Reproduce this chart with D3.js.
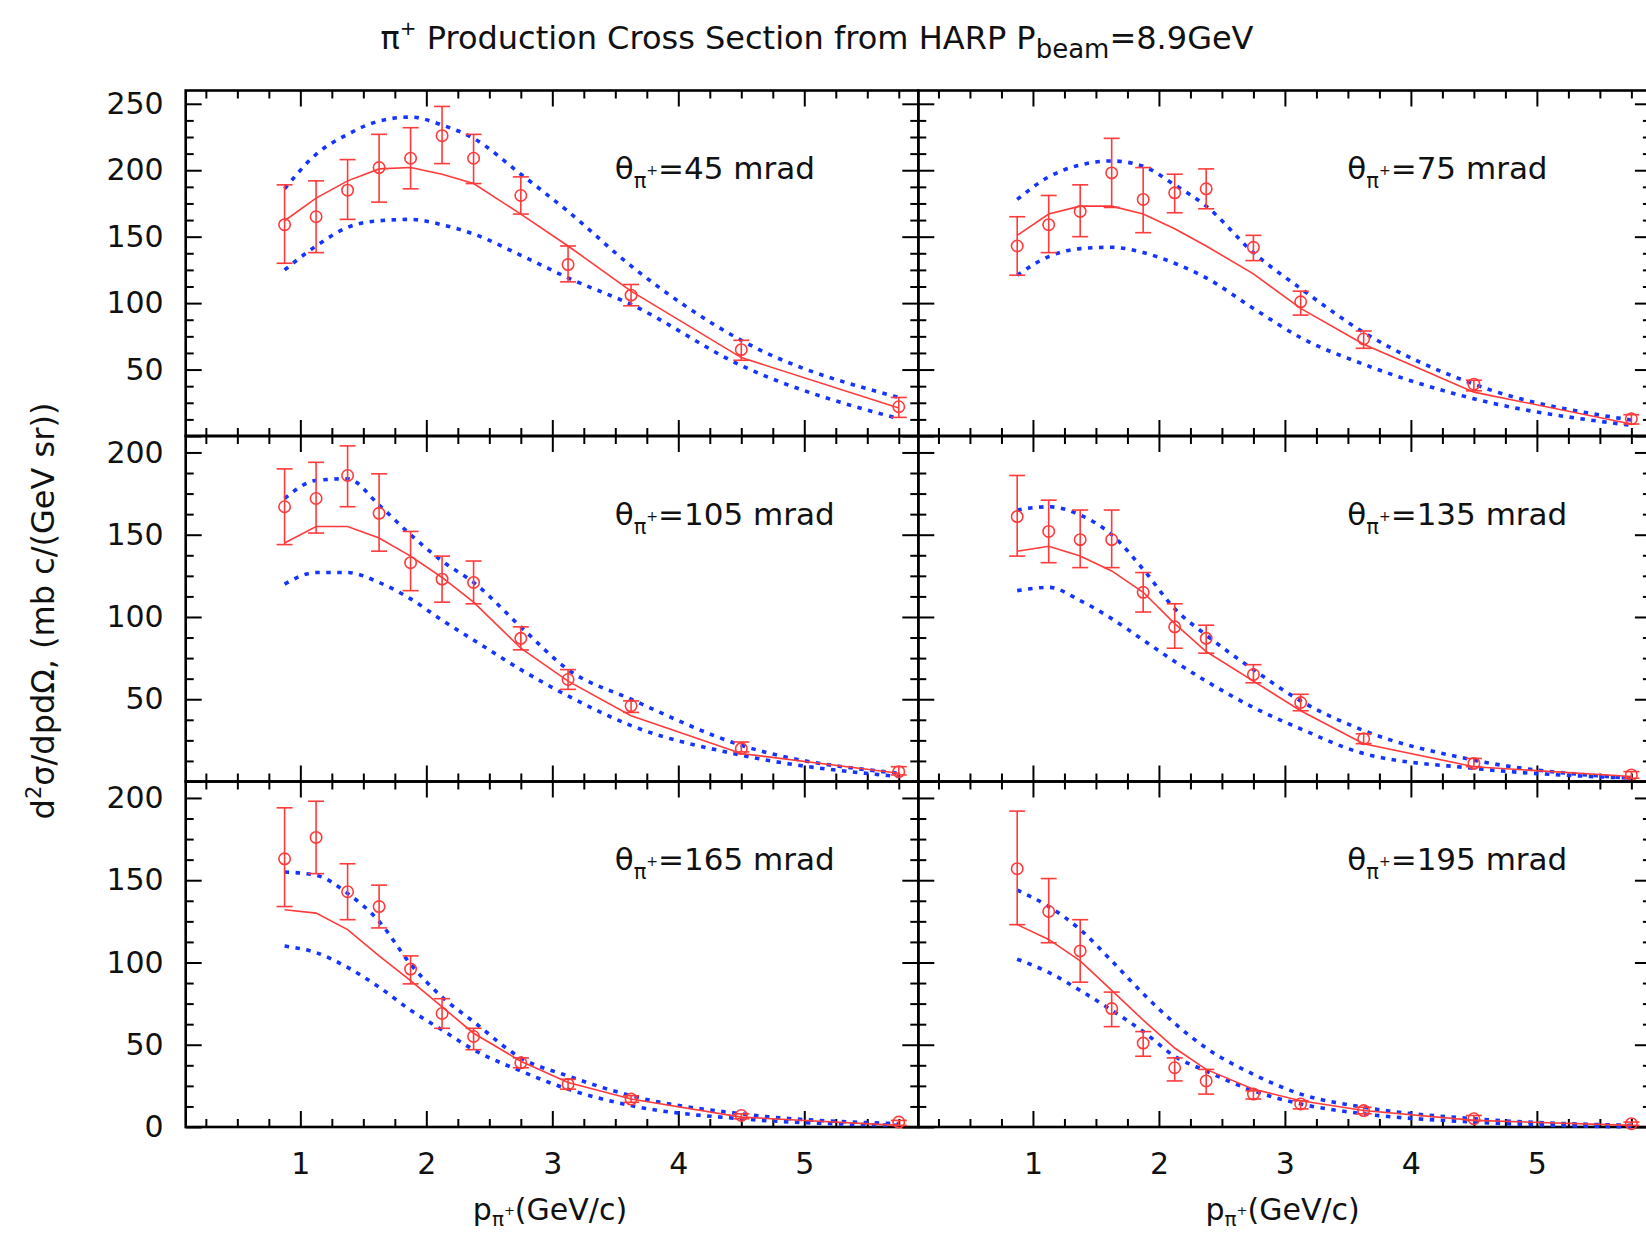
<!DOCTYPE html>
<html>
<head>
<meta charset="utf-8">
<script src="https://cdn.jsdelivr.net/npm/d3@7"></script>
<style>
  html, body { margin: 0; padding: 0; background: #fff; }
  svg { display: block; }
  text { font-family: "DejaVu Sans", "Liberation Sans", sans-serif; fill: #111; }
</style>
</head>
<body>
<svg id="chart" width="1646" height="1235"></svg>
<script>
// ---------------- data ----------------
const momentum = [0.875, 1.125, 1.375, 1.625, 1.875, 2.125, 2.375, 2.75, 3.125, 3.625, 4.5, 5.75];
const angles = [45, 75, 105, 135, 165, 195];
const xTickValues = [1, 2, 3, 4, 5];
const yTicksTop = [50, 100, 150, 200, 250];
const yTicksMid = [50, 100, 150, 200];
const yTicksBottom = [0, 50, 100, 150, 200];

const data45  = [159, 165, 185, 202, 209, 226, 209, 181, 129, 106, 65, 22];
const hi45    = [189, 192, 208, 227, 232, 248, 227, 195, 143, 114, 72, 29];
const lo45    = [130, 138, 163, 176, 186, 205, 190, 167, 116, 98, 57, 14];
const model45 = [162, 179, 192, 201, 202, 197, 190, 167, 143, 109, 59, 21];
const up45    = [186, 212, 227, 237, 240, 234, 224, 197, 169, 128, 72, 29];
const low45   = [125, 143, 157, 162, 163, 159, 152, 136, 119, 99, 53, 13];

const data75  = [143, 159, 169, 198, 178, 183, 186, 142, 101, 73, 39, 13];
const hi75    = [165, 181, 189, 224, 202, 197, 201, 151, 109, 79, 42, 16];
const lo75    = [121, 138, 150, 172, 153, 168, 171, 132, 91, 66, 34, 9];
const model75 = [151, 167, 173, 173, 167, 156, 143, 122, 96, 69, 33, 9];
const up75    = [178, 195, 204, 207, 203, 189, 173, 138, 111, 78, 39, 12];
const low75   = [121, 135, 141, 142, 138, 130, 119, 96, 74, 54, 28, 8];

const data105  = [167, 172, 186, 163, 133, 123, 121, 87, 62, 46, 20, 6];
const hi105    = [190, 194, 204, 187, 152, 137, 134, 94, 68, 49, 24, 9];
const lo105    = [144, 151, 167, 140, 116, 109, 108, 80, 56, 42, 18, 4];
const model105 = [145, 155, 155, 148, 137, 124, 109, 81, 61, 40, 17, 5];
const up105    = [172, 183, 184, 168, 150, 134, 121, 94, 68, 50, 22, 5];
const low105   = [120, 127, 127, 121, 111, 98, 86, 68, 52, 34, 16, 3];

const data135  = [161, 152, 147, 147, 115, 94, 87, 65, 48, 26, 11, 4];
const hi135    = [186, 171, 165, 165, 127, 108, 95, 71, 53, 29, 14, 6];
const lo135    = [137, 133, 130, 130, 103, 81, 78, 60, 43, 23, 9, 2];
const model135 = [140, 143, 137, 128, 115, 96, 79, 61, 43, 23, 9, 3];
const up135    = [165, 167, 162, 150, 129, 105, 89, 68, 49, 31, 13, 2];
const low135   = [116, 118, 110, 99, 86, 73, 61, 45, 32, 17, 8, 2];

const data165  = [163, 176, 143, 134, 96, 69, 55, 39, 26, 17, 7, 3];
const hi165    = [194, 198, 160, 147, 104, 78, 60, 42, 29, 19, 8, 4];
const lo165    = [134, 154, 126, 121, 87, 60, 47, 36, 23, 15, 5, 1];
const model165 = [132, 130, 120, 104, 89, 73, 57, 40, 27, 17, 6, 1];
const up165    = [155, 153, 142, 125, 99, 79, 64, 42, 31, 19, 8, 2];
const low165   = [110, 106, 97, 85, 71, 59, 47, 34, 23, 13, 5, 1];

const data195  = [157, 131, 107, 72, 51, 36, 28, 20, 14, 10, 5, 2];
const hi195    = [192, 151, 126, 82, 58, 42, 35, 22, 16, 12, 7, 3];
const lo195    = [123, 112, 88, 61, 43, 28, 20, 17, 11, 8, 4, 1];
const model195 = [123, 114, 101, 83, 65, 48, 35, 23, 16, 10, 4, 1];
const up195    = [144, 134, 120, 101, 81, 63, 48, 32, 20, 12, 5, 1];
const low195   = [102, 94, 83, 71, 58, 43, 34, 22, 14, 8, 3, 0];

// ---------------- layout ----------------
const svg = d3.select("#chart");
svg.append("rect").attr("width", 1646).attr("height", 1235).attr("fill", "#fff");

const panelW = 732.6, panelH = 345.5;
const colLeft = [185.7, 918.3];
const rowTop = [90.5, 436, 781.5];
const RED = "#ff3a3a", BLUE = "#1434ff";

const x = d3.scaleLinear().domain([0.09, 5.905]).range([0, panelW]);

const panels = [
  {angle: angles[0], d: data45,  hi: hi45,  lo: lo45,  m: model45,  up: up45,  low: low45},
  {angle: angles[1], d: data75,  hi: hi75,  lo: lo75,  m: model75,  up: up75,  low: low75},
  {angle: angles[2], d: data105, hi: hi105, lo: lo105, m: model105, up: up105, low: low105},
  {angle: angles[3], d: data135, hi: hi135, lo: lo135, m: model135, up: up135, low: low135},
  {angle: angles[4], d: data165, hi: hi165, lo: lo165, m: model165, up: up165, low: low165},
  {angle: angles[5], d: data195, hi: hi195, lo: lo195, m: model195, up: up195, low: low195}
];

const xMinor = d3.range(0.25, 5.9, 0.25).filter(v => Math.abs(v - Math.round(v)) > 1e-6);

panels.forEach((p, i) => {
  const row = Math.floor(i / 2), col = i % 2;
  const ymax = row === 0 ? 260 : 210;
  const y = d3.scaleLinear().domain([0, ymax]).range([panelH, 0]);
  const g = svg.append("g").attr("transform", `translate(${colLeft[col]},${rowTop[row]})`);

  const yMajor = d3.range(0, ymax + 0.1, 50);
  const yMinor = d3.range(0, ymax + 0.1, 12.5).filter(v => v % 50 !== 0);
  const labelTicks = row === 0 ? yTicksTop : (row === 1 ? yTicksMid : yTicksBottom);

  function styleAxis(sel, labels) {
    sel.select(".domain").remove();
    sel.selectAll(".tick line").attr("stroke", "#000").attr("stroke-width", 2);
    sel.selectAll(".tick text").attr("font-size", 30).attr("fill", "#111")
      .style("font-family", '"DejaVu Sans", sans-serif');
    if (!labels) sel.selectAll(".tick text").remove();
  }

  // left axis: majors (with labels in col 0)
  const leftMaj = g.append("g").call(d3.axisLeft(y).tickValues(yMajor).tickSize(-16).tickPadding(22)
      .tickFormat(v => labelTicks.includes(v) ? d3.format("d")(v) : ""));
  styleAxis(leftMaj, col === 0);
  const leftMin = g.append("g").call(d3.axisLeft(y).tickValues(yMinor).tickSize(-8).tickFormat(""));
  styleAxis(leftMin, false);
  // right axis
  const rightMaj = g.append("g").attr("transform", `translate(${panelW},0)`)
      .call(d3.axisRight(y).tickValues(yMajor).tickSize(-16).tickFormat(""));
  styleAxis(rightMaj, false);
  const rightMin = g.append("g").attr("transform", `translate(${panelW},0)`)
      .call(d3.axisRight(y).tickValues(yMinor).tickSize(-8).tickFormat(""));
  styleAxis(rightMin, false);
  // top axis
  const topMaj = g.append("g").call(d3.axisTop(x).tickValues(xTickValues).tickSize(-16).tickFormat(""));
  styleAxis(topMaj, false);
  const topMin = g.append("g").call(d3.axisTop(x).tickValues(xMinor).tickSize(-8).tickFormat(""));
  styleAxis(topMin, false);
  // bottom axis
  const botMaj = g.append("g").attr("transform", `translate(0,${panelH})`)
      .call(d3.axisBottom(x).tickValues(xTickValues).tickSize(-16).tickPadding(26).tickFormat(d3.format("d")));
  styleAxis(botMaj, row === 2);
  const botMin = g.append("g").attr("transform", `translate(0,${panelH})`)
      .call(d3.axisBottom(x).tickValues(xMinor).tickSize(-8).tickFormat(""));
  styleAxis(botMin, false);

  // frame
  g.append("rect").attr("width", panelW).attr("height", panelH)
    .attr("fill", "none").attr("stroke", "#000").attr("stroke-width", 2.6);

  const pts = momentum.map((m, k) => ({x: m, d: p.d[k], hi: p.hi[k], lo: p.lo[k], m: p.m[k], up: p.up[k], low: p.low[k]}));

  // blue dotted bands
  const bandLine = key => d3.line().x(q => x(q.x)).y(q => y(q[key])).curve(d3.curveMonotoneX);
  ["up", "low"].forEach(key => {
    g.append("path").datum(pts).attr("d", bandLine(key))
      .attr("fill", "none").attr("stroke", BLUE).attr("stroke-width", 3.6)
      .attr("stroke-dasharray", "4.5,6.5");
  });

  // red model line
  g.append("path").datum(pts)
    .attr("d", d3.line().x(q => x(q.x)).y(q => y(q.m)))
    .attr("fill", "none").attr("stroke", RED).attr("stroke-width", 1.6);

  // data points with error bars
  const pg = g.append("g").attr("stroke", RED).attr("stroke-width", 1.6).attr("fill", "none");
  const eb = pg.selectAll("g.pt").data(pts).join("g").attr("class", "pt");
  eb.append("line").attr("x1", q => x(q.x)).attr("x2", q => x(q.x))
    .attr("y1", q => y(q.hi)).attr("y2", q => y(q.lo));
  eb.append("line").attr("x1", q => x(q.x) - 8).attr("x2", q => x(q.x) + 8)
    .attr("y1", q => y(q.hi)).attr("y2", q => y(q.hi));
  eb.append("line").attr("x1", q => x(q.x) - 8).attr("x2", q => x(q.x) + 8)
    .attr("y1", q => y(q.lo)).attr("y2", q => y(q.lo));
  eb.append("circle").attr("cx", q => x(q.x)).attr("cy", q => y(q.d)).attr("r", 5.7);

  // panel label
  const t = g.append("text").attr("x", 429).attr("y", 88.5).attr("font-size", 31);
  t.append("tspan").text("θ");
  t.append("tspan").attr("font-size", 21).attr("dy", 9).text("π");
  t.append("tspan").attr("font-size", 14).attr("dy", -13).text("+");
  t.append("tspan").attr("font-size", 31).attr("dy", 4).text("=" + p.angle + " mrad");

  // x axis label (bottom row)
  if (row === 2) {
    const xl = g.append("text").attr("x", panelW / 2 - 2).attr("y", 1220 - rowTop[row])
      .attr("text-anchor", "middle").attr("font-size", 30);
    xl.append("tspan").text("p");
    xl.append("tspan").attr("font-size", 20).attr("dy", 6).text("π");
    xl.append("tspan").attr("font-size", 13).attr("dy", -11).text("+");
    xl.append("tspan").attr("font-size", 30).attr("dy", 5).text("(GeV/c)");
  }
});

// title
const title = svg.append("text").attr("x", 817).attr("y", 49).attr("text-anchor", "middle").attr("font-size", 32);
title.append("tspan").text("π");
title.append("tspan").attr("font-size", 20).attr("dy", -14).text("+");
title.append("tspan").attr("font-size", 32).attr("dy", 14).text(" Production Cross Section from HARP P");
title.append("tspan").attr("font-size", 26).attr("dy", 9).text("beam");
title.append("tspan").attr("font-size", 32).attr("dy", -9).text("=8.9GeV");

// y axis label
const yl = svg.append("text").attr("transform", "translate(54,611) rotate(-90)")
  .attr("text-anchor", "middle").attr("font-size", 32);
yl.append("tspan").text("d");
yl.append("tspan").attr("font-size", 21).attr("dy", -13).text("2");
yl.append("tspan").attr("font-size", 32).attr("dy", 13).text("σ/dpdΩ, (mb c/(GeV sr))");
</script>
</body>
</html>
